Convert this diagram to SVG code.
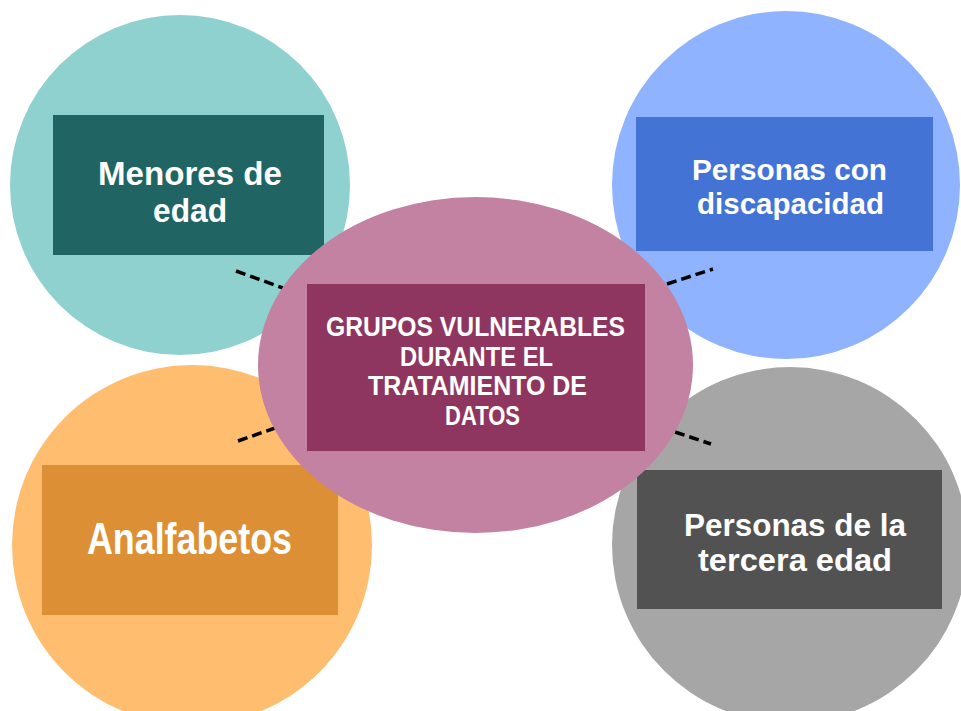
<svg xmlns="http://www.w3.org/2000/svg" width="961" height="711" viewBox="0 0 961 711">
<style>
.t{font-family:"Liberation Sans Narrow","Liberation Sans","DejaVu Sans Condensed",sans-serif;font-weight:bold;fill:#ffffff;text-anchor:middle}
.dash{stroke:#000000;stroke-width:3.5;stroke-dasharray:10 5;fill:none}
</style>
<rect width="961" height="711" fill="#ffffff"/>
<g id="node-menores">
<circle cx="180" cy="185" r="170" fill="#8fd1cf"/>
<rect x="53" y="115" width="271" height="140" fill="#206464"/>
<text class="t" font-size="33"><tspan x="190" y="185" textLength="184" lengthAdjust="spacingAndGlyphs">Menores de</tspan><tspan x="190" y="222" textLength="74" lengthAdjust="spacingAndGlyphs">edad</tspan></text>
</g>
<g id="node-discapacidad">
<circle cx="786" cy="185" r="174" fill="#8fb3fe"/>
<rect x="636" y="117" width="297" height="134" fill="#4473d6"/>
<text class="t" font-size="30"><tspan x="789.5" y="180" textLength="195" lengthAdjust="spacingAndGlyphs">Personas con</tspan><tspan x="790.5" y="214" textLength="187" lengthAdjust="spacingAndGlyphs">discapacidad</tspan></text>
</g>
<g id="node-analfabetos">
<circle cx="192" cy="545" r="180" fill="#ffbd6f"/>
<rect x="42" y="465" width="296" height="150" fill="#dc8f35"/>
<text class="t" font-size="44" x="189.5" y="554" textLength="205" lengthAdjust="spacingAndGlyphs">Analfabetos</text>
</g>
<g id="node-tercera-edad">
<circle cx="790" cy="545" r="178" fill="#a6a6a6"/>
<rect x="637" y="470" width="305" height="139" fill="#525252"/>
<text class="t" font-size="31"><tspan x="795" y="536" textLength="222" lengthAdjust="spacingAndGlyphs">Personas de la</tspan><tspan x="795" y="571" textLength="194" lengthAdjust="spacingAndGlyphs">tercera edad</tspan></text>
</g>
<g id="connectors">
<line class="dash" x1="236" y1="271" x2="283" y2="288"/>
<line class="dash" x1="667" y1="284" x2="713" y2="269"/>
<line class="dash" x1="238" y1="441" x2="275" y2="428"/>
<line class="dash" x1="675" y1="432" x2="711" y2="444"/>
</g>
<g id="node-center">
<ellipse cx="475.5" cy="365" rx="217.5" ry="168" fill="#c382a2"/>
<rect x="307" y="284" width="338" height="167" fill="#8e3660"/>
<text class="t" font-size="27"><tspan x="475.5" y="336" textLength="299" lengthAdjust="spacingAndGlyphs">GRUPOS VULNERABLES</tspan><tspan x="476.5" y="365.5" textLength="153" lengthAdjust="spacingAndGlyphs">DURANTE EL</tspan><tspan x="477.5" y="395" textLength="219" lengthAdjust="spacingAndGlyphs">TRATAMIENTO DE</tspan><tspan x="482.5" y="424.5" textLength="75" lengthAdjust="spacingAndGlyphs">DATOS</tspan></text>
</g>
</svg>
